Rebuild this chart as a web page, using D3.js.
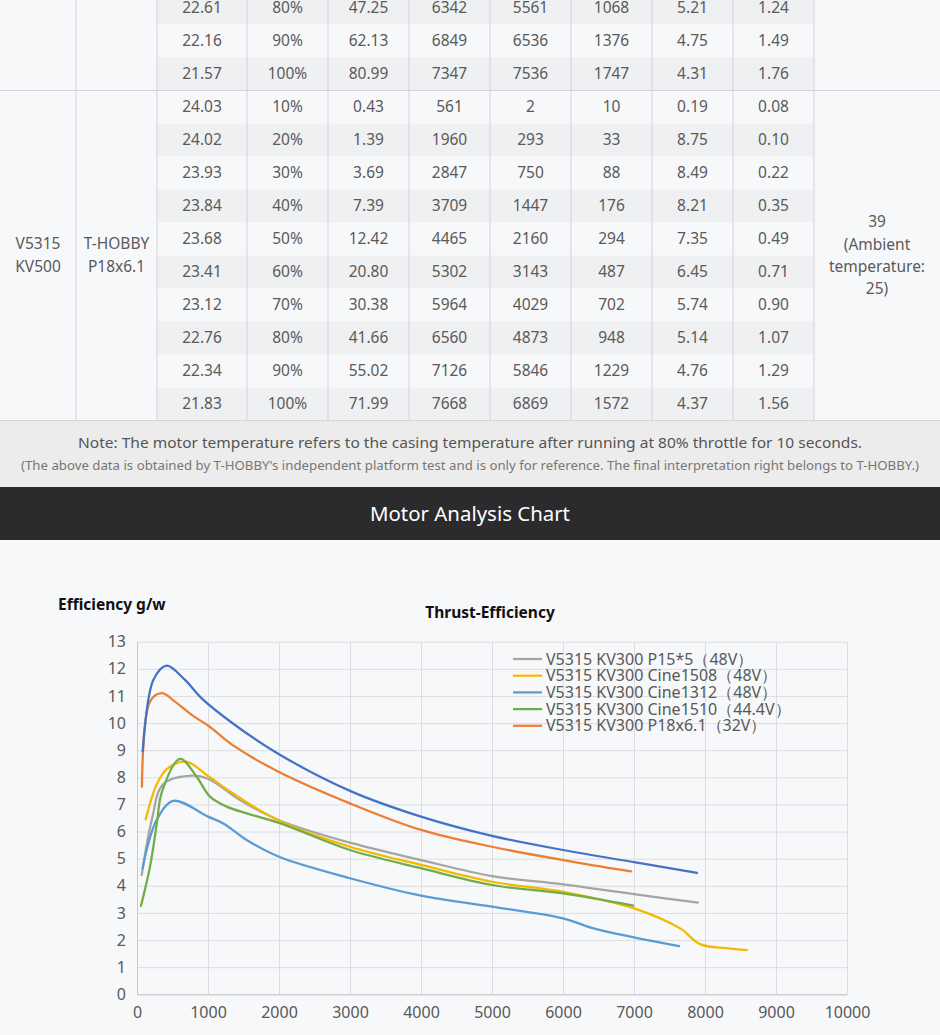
<!DOCTYPE html>
<html>
<head>
<meta charset="utf-8">
<script src="https://cdn.jsdelivr.net/npm/d3@7"></script>
<style>
  body { margin: 0; background: #f7f8fa; }
  svg { display: block; font-family: "Noto Sans", "Open Sans", sans-serif; }
</style>
</head>
<body>
<div id="page"></div>
<script>
// ---- table data (previous motor tail + V5315 KV500) ----
const prevRows = [
  ["22.61", "80%", "47.25", "6342", "5561", "1068", "5.21", "1.24"],
  ["22.16", "90%", "62.13", "6849", "6536", "1376", "4.75", "1.49"],
  ["21.57", "100%", "80.99", "7347", "7536", "1747", "4.31", "1.76"]
];
const kv500Rows = [
  ["24.03", "10%", "0.43", "561", "2", "10", "0.19", "0.08"],
  ["24.02", "20%", "1.39", "1960", "293", "33", "8.75", "0.10"],
  ["23.93", "30%", "3.69", "2847", "750", "88", "8.49", "0.22"],
  ["23.84", "40%", "7.39", "3709", "1447", "176", "8.21", "0.35"],
  ["23.68", "50%", "12.42", "4465", "2160", "294", "7.35", "0.49"],
  ["23.41", "60%", "20.80", "5302", "3143", "487", "6.45", "0.71"],
  ["23.12", "70%", "30.38", "5964", "4029", "702", "5.74", "0.90"],
  ["22.76", "80%", "41.66", "6560", "4873", "948", "5.14", "1.07"],
  ["22.34", "90%", "55.02", "7126", "5846", "1229", "4.76", "1.29"],
  ["21.83", "100%", "71.99", "7668", "6869", "1572", "4.37", "1.56"]
];
const kv500Model = ["V5315", "KV500"];
const kv500Prop = ["T-HOBBY", "P18x6.1"];
const kv500Temp = ["39", "(Ambient", "temperature:", "25)"];

const noteMain = "Note: The motor temperature refers to the casing temperature after running at 80% throttle for 10 seconds.";
const noteSub = "(The above data is obtained by T-HOBBY's independent platform test and is only for reference. The final interpretation right belongs to T-HOBBY.)";
const bannerTitle = "Motor Analysis Chart";

// ---- chart data: thrust (g) vs efficiency (g/W) ----
const chartTitle = "Thrust-Efficiency";
const yAxisTitle = "Efficiency g/w";
const xTicks = [0, 1000, 2000, 3000, 4000, 5000, 6000, 7000, 8000, 9000, 10000];
const yTicks = [0, 1, 2, 3, 4, 5, 6, 7, 8, 9, 10, 11, 12, 13];

const grayThrust = [66, 210, 370, 770, 1000, 1450, 2000, 3000, 4000, 5000, 6000, 7000, 7900];
const grayEff    = [4.4, 6.45, 7.75, 8.06, 7.95, 7.16, 6.42, 5.59, 4.95, 4.36, 4.05, 3.69, 3.38];

const yellowThrust = [122, 280, 420, 690, 1000, 1350, 2000, 3000, 4000, 5000, 6000, 7000, 7650, 7930, 8300, 8590];
const yellowEff    = [6.45, 7.75, 8.3, 8.58, 8.05, 7.41, 6.4, 5.44, 4.77, 4.15, 3.78, 3.17, 2.43, 1.85, 1.70, 1.63];

const lblueThrust = [80, 136, 277, 512, 1000, 1216, 1545, 2000, 3000, 4000, 5000, 6000, 6430, 7000, 7634];
const lblueEff    = [4.65, 5.32, 6.43, 7.13, 6.55, 6.3, 5.69, 5.07, 4.28, 3.64, 3.23, 2.80, 2.43, 2.10, 1.78];

const greenThrust = [56, 183, 277, 350, 606, 840, 1028, 1263, 1545, 2000, 3000, 4000, 5000, 6000, 6990];
const greenEff    = [3.26, 4.7, 6.25, 7.45, 8.68, 8.02, 7.29, 6.92, 6.67, 6.32, 5.32, 4.65, 4.03, 3.72, 3.27];

const orangeThrust = [70, 183, 348, 535, 770, 1005, 1380, 2000, 3000, 4000, 5000, 6000, 6958];
const orangeEff    = [7.65, 10.79, 11.1, 10.79, 10.3, 9.9, 9.13, 8.2, 7.04, 6.06, 5.44, 4.95, 4.53];

const dblueThrust = [80, 230, 418, 676, 911, 1380, 2000, 3000, 4000, 5000, 6000, 7000, 7887];
const dblueEff    = [8.95, 11.59, 12.12, 11.59, 10.91, 9.93, 8.85, 7.5, 6.55, 5.84, 5.32, 4.87, 4.48];

const seriesNames = [
  "V5315 KV300 P15*5（48V）",
  "V5315 KV300 Cine1508（48V）",
  "V5315 KV300 Cine1312（48V）",
  "V5315 KV300 Cine1510（44.4V）",
  "V5315 KV300 P18x6.1（32V）",
  null
];
const seriesColors = ["#a5a5a5", "#f5b800", "#5b9bd5", "#70ad47", "#ed7d31", "#4472c4"];

const series = [
  [grayThrust, grayEff], [yellowThrust, yellowEff], [lblueThrust, lblueEff],
  [greenThrust, greenEff], [orangeThrust, orangeEff], [dblueThrust, dblueEff]
].map(([xs, ys], i) => ({
  name: seriesNames[i],
  color: seriesColors[i],
  points: xs.map((x, j) => ({ x: x, y: ys[j] }))
}));

const W = 940, H = 1035;
const svg = d3.select("#page").append("svg")
  .attr("width", W).attr("height", H);

// page background
svg.append("rect").attr("width", W).attr("height", H).attr("fill", "#f7f8fa");

// ---------------- table ----------------
const colEdges = [0, 76, 157, 247, 328, 409, 490, 571, 652, 733, 814, 940];
const allRows = prevRows.concat(kv500Rows);
const rowY = d3.scaleLinear().domain([0, allRows.length]).range([-8.5, 420.5]);
const table = svg.append("g");

// striped data cells
table.selectAll("rect.stripe")
  .data(allRows)
  .enter()
  .append("rect")
  .attr("x", colEdges[2])
  .attr("y", (d, i) => rowY(i))
  .attr("width", colEdges[10] - colEdges[2])
  .attr("height", rowY(1) - rowY(0))
  .attr("fill", (d, i) => i % 2 == 0 ? "#eff0f2" : "#f7f8fa");

// cell text
allRows.forEach(function (row, i) {
  table.selectAll(null)
    .data(row)
    .enter()
    .append("text")
    .attr("x", (d, j) => (colEdges[j + 2] + colEdges[j + 3]) / 2)
    .attr("y", (rowY(i) + rowY(i + 1)) / 2)
    .attr("dy", "0.35em")
    .attr("text-anchor", "middle")
    .attr("font-size", "15.5px")
    .attr("fill", "#5a5a5a")
    .text(d => d);
});

// row-spanning cells for the KV500 group
const groupTop = rowY(prevRows.length), groupBot = rowY(allRows.length);
function spanText(lines, cx, lineH) {
  const mid = (groupTop + groupBot) / 2;
  table.selectAll(null)
    .data(lines)
    .enter()
    .append("text")
    .attr("x", cx)
    .attr("y", (d, i) => mid + (i - (lines.length - 1) / 2) * lineH)
    .attr("dy", "0.35em")
    .attr("text-anchor", "middle")
    .attr("font-size", "15.5px")
    .attr("fill", "#5a5a5a")
    .text(d => d);
}
spanText(kv500Model, (colEdges[0] + colEdges[1]) / 2, 23);
spanText(kv500Prop, (colEdges[1] + colEdges[2]) / 2, 23);
spanText(kv500Temp, (colEdges[10] + colEdges[11]) / 2, 22.3);

// grid lines
table.selectAll("line.v")
  .data(colEdges.slice(1, 11))
  .enter()
  .append("line")
  .attr("x1", d => d).attr("x2", d => d)
  .attr("y1", 0).attr("y2", groupBot)
  .attr("stroke", "#d2d3d8").attr("stroke-width", 1);
table.selectAll("line.h")
  .data([groupTop, groupBot])
  .enter()
  .append("line")
  .attr("x1", 0).attr("x2", W)
  .attr("y1", d => d).attr("y2", d => d)
  .attr("stroke", "#d2d3d8").attr("stroke-width", 1);

// ---------------- note ----------------
svg.append("rect").attr("x", 0).attr("y", groupBot + 0.5)
  .attr("width", W).attr("height", 487 - groupBot - 0.5).attr("fill", "#ececec");
svg.append("text")
  .attr("x", W / 2).attr("y", 443).attr("dy", "0.35em")
  .attr("text-anchor", "middle").attr("font-size", "15px").attr("fill", "#555")
  .attr("textLength", 784).attr("lengthAdjust", "spacingAndGlyphs")
  .text(noteMain);
svg.append("text")
  .attr("x", W / 2).attr("y", 466).attr("dy", "0.35em")
  .attr("text-anchor", "middle").attr("font-size", "12.5px").attr("fill", "#777")
  .attr("textLength", 898).attr("lengthAdjust", "spacingAndGlyphs")
  .text(noteSub);

// ---------------- banner ----------------
svg.append("rect").attr("x", 0).attr("y", 487)
  .attr("width", W).attr("height", 53).attr("fill", "#2b2b2e");
svg.append("text")
  .attr("x", W / 2).attr("y", 514).attr("dy", "0.35em")
  .attr("text-anchor", "middle").attr("font-size", "20px").attr("fill", "#ffffff")
  .attr("textLength", 200).attr("lengthAdjust", "spacingAndGlyphs")
  .text(bannerTitle);

// ---------------- chart ----------------
const x = d3.scaleLinear().domain([0, 10000]).range([137, 847]);
const y = d3.scaleLinear().domain([0, 13]).range([994.3, 641.7]);
const chart = svg.append("g");

// gridlines
chart.append("g")
  .attr("transform", "translate(0," + y(0) + ")")
  .call(d3.axisBottom(x).tickValues(xTicks).tickSize(-(y(0) - y(13))).tickFormat(""))
  .call(g => g.select(".domain").remove())
  .call(g => g.selectAll("line").attr("stroke", "#dcdde0"));
chart.append("g")
  .attr("transform", "translate(" + x(0) + ",0)")
  .call(d3.axisLeft(y).tickValues(yTicks).tickSize(-(x(10000) - x(0))).tickFormat(""))
  .call(g => g.select(".domain").remove())
  .call(g => g.selectAll("line").attr("stroke", "#dcdde0"));

// axes
chart.append("g")
  .attr("transform", "translate(0," + y(0) + ")")
  .call(d3.axisBottom(x).tickValues(xTicks).tickSize(0).tickPadding(12).tickFormat(d3.format("d")))
  .call(g => g.select(".domain").attr("stroke", "#c8c8cc"))
  .call(g => g.selectAll("text").attr("font-size", "16px").attr("fill", "#595959")
    .attr("font-family", "'Noto Sans', sans-serif"));
chart.append("g")
  .attr("transform", "translate(" + x(0) + ",0)")
  .call(d3.axisLeft(y).tickValues(yTicks).tickSize(0).tickPadding(11))
  .call(g => g.select(".domain").attr("stroke", "#c8c8cc"))
  .call(g => g.selectAll("text").attr("font-size", "16px").attr("fill", "#595959")
    .attr("font-family", "'Noto Sans', sans-serif"));

// lines (smoothed like a spreadsheet "smooth line")
const line = d3.line()
  .x(d => x(d.x))
  .y(d => y(d.y))
  .curve(d3.curveCatmullRom.alpha(0.5));

chart.selectAll("path.series")
  .data(series)
  .enter()
  .append("path")
  .attr("class", "series")
  .attr("d", d => line(d.points))
  .attr("fill", "none")
  .attr("stroke", d => d.color)
  .attr("stroke-width", 2.25)
  .attr("stroke-linejoin", "round")
  .attr("stroke-linecap", "round");

// titles
svg.append("text")
  .attr("x", 58).attr("y", 610)
  .attr("font-size", "15.5px").attr("font-weight", "bold").attr("fill", "#111")
  .text(yAxisTitle);
svg.append("text")
  .attr("x", 490).attr("y", 618)
  .attr("text-anchor", "middle")
  .attr("font-size", "15.5px").attr("font-weight", "bold").attr("fill", "#111")
  .text(chartTitle);

// legend
const legendItems = series.filter(s => s.name);
const legend = svg.append("g").attr("transform", "translate(513,659)");
const legendRow = d3.scaleLinear().domain([0, 1]).range([0, 16.7]);
legend.selectAll("line")
  .data(legendItems)
  .enter()
  .append("line")
  .attr("x1", 0).attr("x2", 29)
  .attr("y1", (d, i) => legendRow(i)).attr("y2", (d, i) => legendRow(i))
  .attr("stroke", d => d.color).attr("stroke-width", 2.25);
legend.selectAll("text")
  .data(legendItems)
  .enter()
  .append("text")
  .attr("x", 33)
  .attr("y", (d, i) => legendRow(i))
  .attr("dy", "0.35em")
  .attr("font-size", "16px").attr("fill", "#595959")
  .text(d => d.name);
</script>
</body>
</html>
